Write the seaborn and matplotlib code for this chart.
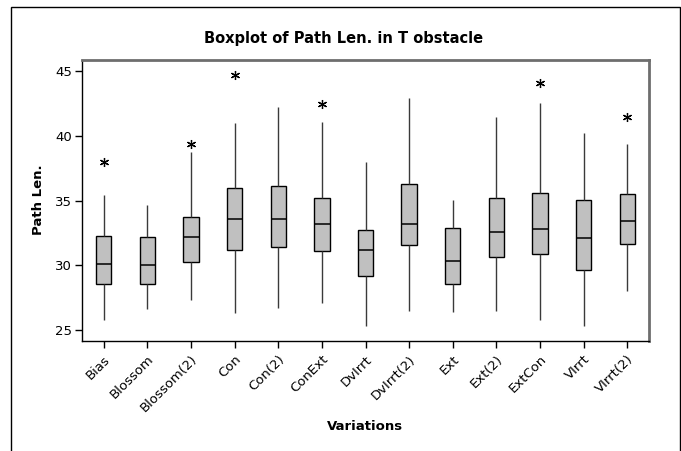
import matplotlib
matplotlib.use("Agg")
import matplotlib.pyplot as plt
from matplotlib.patches import Rectangle
import numpy as np
import pandas as pd
import seaborn as sns

# Path length summaries per planner variation
variations = ["Bias", "Blossom", "Blossom(2)", "Con", "Con(2)", "ConExt", "DvIrrt",
              "DvIrrt(2)", "Ext", "Ext(2)", "ExtCon", "VIrrt", "VIrrt(2)"]
whisker_low = [25.76, 26.65, 27.30, 26.34, 26.73, 27.11, 25.32, 26.47, 26.42, 26.50, 25.78, 25.32, 28.02]
quartile_1 = [28.58, 28.58, 30.29, 31.18, 31.44, 31.08, 29.22, 31.54, 28.58, 30.64, 30.85, 29.66, 31.67]
medians = [30.12, 30.02, 32.16, 33.62, 33.62, 33.19, 31.18, 33.19, 30.37, 32.55, 32.80, 32.08, 33.44]
quartile_3 = [32.28, 32.16, 33.70, 35.99, 36.14, 35.24, 32.72, 36.30, 32.90, 35.24, 35.60, 35.06, 35.50]
whisker_high = [35.42, 34.65, 38.74, 41.00, 42.19, 41.10, 37.95, 42.88, 35.06, 41.47, 42.55, 40.19, 39.38]
outliers = {"Bias": 38.00, "Blossom(2)": 39.34, "Con": 44.68, "ConExt": 42.42,
            "ExtCon": 44.04, "VIrrt(2)": 41.42}
y_ticks = [25, 30, 35, 40, 45]

# Nine-point sample per group whose quartiles land exactly on the summaries
rows = []
for i, name in enumerate(variations):
    pts = [whisker_low[i], quartile_1[i], quartile_1[i], medians[i], medians[i],
           quartile_3[i], quartile_3[i], whisker_high[i],
           outliers.get(name, whisker_high[i])]
    rows += [(name, v) for v in pts]
df = pd.DataFrame(rows, columns=["Variations", "Path Len."])

sns.set_style("white")
plt.rcParams["font.family"] = ["DejaVu Sans"]
plt.rcParams["text.color"] = "black"
plt.rcParams["axes.labelcolor"] = "black"
plt.rcParams["xtick.color"] = "black"
plt.rcParams["ytick.color"] = "black"

W, H = 681, 451
fig = plt.figure(figsize=(W / 100, H / 100), dpi=100)
left, right, top, bottom = 82, 649, 60, 340.5
ax = fig.add_axes([left / W, 1 - bottom / H, (right - left) / W, (bottom - top) / H])

sns.boxplot(
    data=df, x="Variations", y="Path Len.", order=variations, ax=ax,
    color="#c0c0c0", saturation=1, width=0.35, linecolor="black", linewidth=1,
    showcaps=False,
    whiskerprops=dict(color="#3a3a3a", linewidth=1),
    medianprops=dict(color="black", linewidth=1.1),
    flierprops=dict(marker=(6, 2, 0), markersize=6.5, markeredgecolor="black",
                    markerfacecolor="black", markeredgewidth=0.9),
)

ax.set_xlim(-0.5, len(variations) - 0.5)
ax.set_ylim(24.21, 45.85)
ax.set_yticks(y_ticks)
ax.set_xlabel("")
ax.set_ylabel("")
ax.tick_params(axis="both", which="major", bottom=True, left=True, direction="out",
               length=5, width=1, color="black", labelsize=9.5, labelcolor="black")
ax.tick_params(axis="x", pad=4)
ax.tick_params(axis="y", pad=2)
for lab in ax.get_xticklabels():
    lab.set_rotation(45)
    lab.set_ha("right")
    lab.set_rotation_mode("anchor")

for side in ("top", "right"):
    ax.spines[side].set_color("#6e6e6e")
    ax.spines[side].set_linewidth(2)
for side in ("left", "bottom"):
    ax.spines[side].set_color("black")
    ax.spines[side].set_linewidth(1)

fig.text(344 / W, 1 - 39 / H, "Boxplot of Path Len. in T obstacle",
         ha="center", va="center", fontsize=10.5, fontweight="bold", color="black")
fig.text(39 / W, 1 - 200 / H, "Path Len.", rotation=90,
         ha="center", va="center", fontsize=9.5, fontweight="bold", color="black")
fig.text(365 / W, 1 - 427 / H, "Variations",
         ha="center", va="center", fontsize=9.5, fontweight="bold", color="black")

# Outer frame around the graph window
fig.patches.append(Rectangle((10.5 / W, -0.05), (679.5 - 10.5) / W, 1 - 6.5 / H + 0.05,
                             transform=fig.transFigure, fill=False,
                             edgecolor="black", linewidth=1))

fig.savefig("out.png", dpi=100)
